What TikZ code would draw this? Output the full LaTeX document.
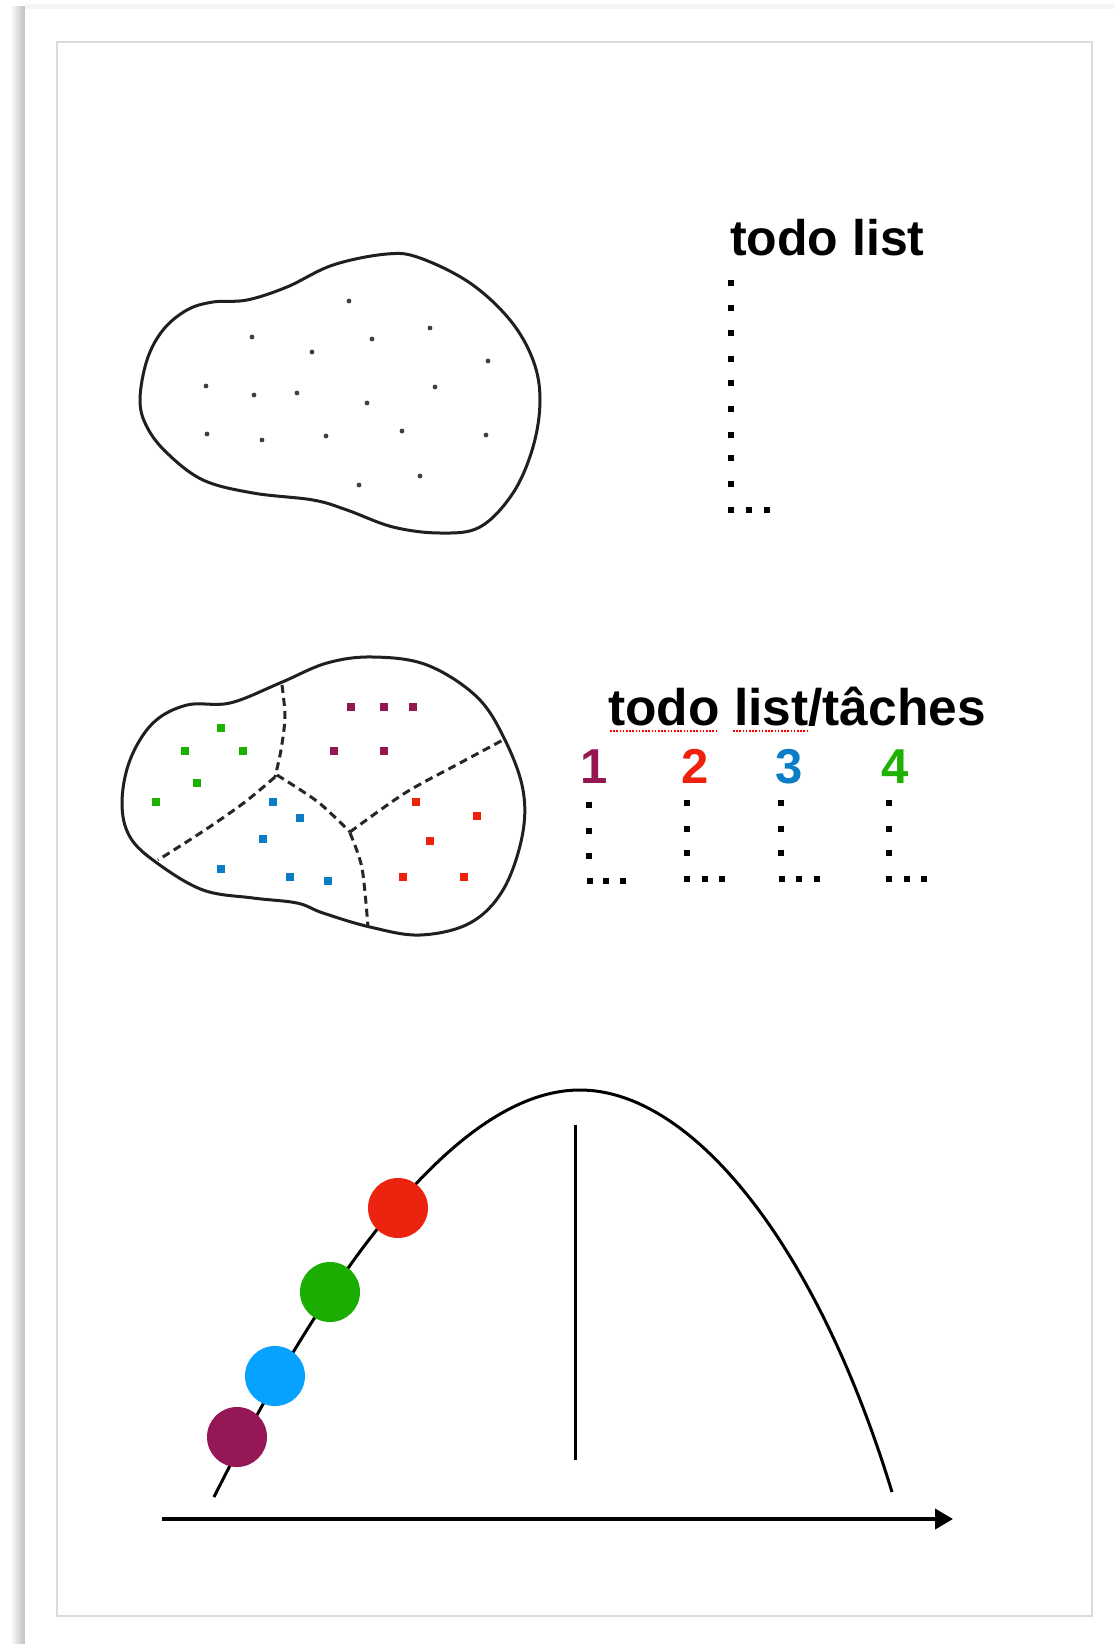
\documentclass[tikz,border=0pt]{standalone}
\usepackage{fontspec}
\setmainfont{Liberation Sans}
\usetikzlibrary{arrows.meta}
\definecolor{cplum}{HTML}{941751}
\definecolor{cred}{HTML}{EE220C}
\definecolor{cblue}{HTML}{0B7CC6}
\definecolor{cgreen}{HTML}{1DB100}
\definecolor{csky}{HTML}{06A2FD}
\definecolor{cpurple}{HTML}{961755}
\definecolor{cdred}{HTML}{EC230E}
\definecolor{cdgreen}{HTML}{1AAE02}
\tikzset{
  blob/.style={line width=3, black!88, line join=round},
  sep/.style={line width=3, black!85, dash pattern=on 8 off 5},
  title/.style={font=\fontsize{50}{60}\selectfont\bfseries, inner sep=0pt, anchor=base west},
  num/.style={font=\fontsize{49}{58}\selectfont\bfseries, inner sep=0pt, anchor=base},
  ball/.style={circle, minimum size=60, inner sep=0pt},
}
\begin{document}
\begin{tikzpicture}[x=1pt,y=-1pt]
\useasboundingbox (0,0) rectangle (1115,1644);
\fill[white] (0,0) rectangle (1115,1644);
% page shadow and frame
\shade[left color=white, right color=black!25] (10,6) rectangle (25,1644);
\fill[black!4] (25,4) rectangle (1115,9);
\fill[white] (25,9) rectangle (1115,1644);
\draw[black!14, line width=1.5] (57,42) rectangle (1092,1616);

% ---------- first blob ----------
\draw[blob] plot[smooth cycle, tension=0.6] coordinates {
 (140,400) (147,360) (163,330) (187,310) (213,302) (247,300) (287,287) (333,265)
 (387,254) (420,258) (470,283) (510,320) (533,360) (540,400) (533,447) (513,493)
 (480,527) (440,533) (393,527) (347,510) (313,500) (253,493) (203,480) (167,453) (147,427)};
\foreach \p in {(349,301),(252,337),(372,339),(430,328),(312,352),(488,361),(206,386),
  (254,395),(297,393),(367,403),(435,387),(207,434),(262,440),(326,436),(402,431),
  (486,435),(420,476),(359,485)}
  \fill[black!75] \p circle (2.4);

% todo list
\node[title] (t1) at (730,255) {todo list};
\foreach \y in {283,308,333,359,383,409,435,458,484,510}
  \fill (731,\y) ++(-3,-3) rectangle ++(6,6);
\foreach \x in {749,767}
  \fill (\x,510) ++(-3,-3) rectangle ++(6,6);

% ---------- second blob ----------
\draw[blob] plot[smooth cycle, tension=0.6] coordinates {
 (122,803) (130,760) (153,723) (187,705) (230,703) (280,683) (327,663) (373,657)
 (427,665) (477,697) (505,740) (523,790) (522,837) (503,890) (470,923) (420,935)
 (370,927) (323,913) (297,903) (253,898) (203,890) (157,863) (130,837)};
\draw[sep] plot[smooth] coordinates {(282,685) (285,717) (281,750) (275,777)};
\draw[sep] plot[smooth] coordinates {(275,777) (245,802) (205,830) (158,860)};
\draw[sep] plot[smooth] coordinates {(277,775) (318,802) (350,832)};
\draw[sep] plot[smooth] coordinates {(350,832) (405,793) (460,763) (503,740)};
\draw[sep] plot[smooth] coordinates {(350,833) (362,868) (368,927)};

\foreach \p in {(351,707),(384,707),(413,707),(334,751),(384,751)}
  \fill[cplum] \p ++(-4,-4) rectangle ++(8,8);
\foreach \p in {(221,728),(185,751),(243,751),(197,783),(156,802)}
  \fill[cgreen] \p ++(-4,-4) rectangle ++(8,8);
\foreach \p in {(273,802),(300,818),(263,839),(221,869),(290,877),(328,881)}
  \fill[cblue] \p ++(-4,-4) rectangle ++(8,8);
\foreach \p in {(416,802),(477,816),(430,841),(403,877),(464,877)}
  \fill[cred] \p ++(-4,-4) rectangle ++(8,8);

% todo list / taches
\node[title, font=\fontsize{51.5}{60}\selectfont\bfseries] (t2) at (608,725) {todo list/tâches};
\draw[red, line width=1.3, dash pattern=on 1.6 off 1.6] (610,731) -- (717,731);
\draw[red, line width=1.3, dash pattern=on 1.6 off 1.6] (733,731) -- (807,731);
\node[num, text=cplum] (n1) at (594,783) {1};
\node[num, text=cred] (n2) at (695,783) {2};
\node[num, text=cblue] (n3) at (789,783) {3};
\node[num, text=cgreen] (n4) at (895,783) {4};
\foreach \x in {589}{
  \foreach \y in {805,831,856}
    \fill (\x,\y) ++(-3,-3) rectangle ++(6,6);}
\foreach \x in {590,606,623}
  \fill (\x,881) ++(-3,-3) rectangle ++(6,6);
\foreach \x in {687,781,889}{
  \foreach \y in {803,829,853}
    \fill (\x,\y) ++(-3,-3) rectangle ++(6,6);}
\foreach \x in {687,705,722, 782,799,817, 889,907,924}
  \fill (\x,879) ++(-3,-3) rectangle ++(6,6);

% ---------- bottom graph ----------
\coordinate (a0) at (162,1519);
\coordinate (a1) at (953,1519);
\draw[line width=4, -{Triangle[length=18, width=20]}] (a0) -- (a1);
\coordinate (c0) at (214,1497);
\coordinate (cp) at (580,1090);
\coordinate (c1) at (892,1492);
\draw[line width=3] (c0) .. controls (314,1297) and (450,1090) .. (cp)
  .. controls (690,1090) and (815,1240) .. (c1);
\coordinate (v0) at (575,1125);
\coordinate (v1) at (575,1460);
\draw[line width=3] (v0) -- (v1);
\node[ball, fill=cpurple] (b1) at (237,1437) {};
\node[ball, fill=csky] (b2) at (275,1376) {};
\node[ball, fill=cdgreen] (b3) at (330,1292) {};
\node[ball, fill=cdred] (b4) at (398,1208) {};
\end{tikzpicture}
\end{document}
